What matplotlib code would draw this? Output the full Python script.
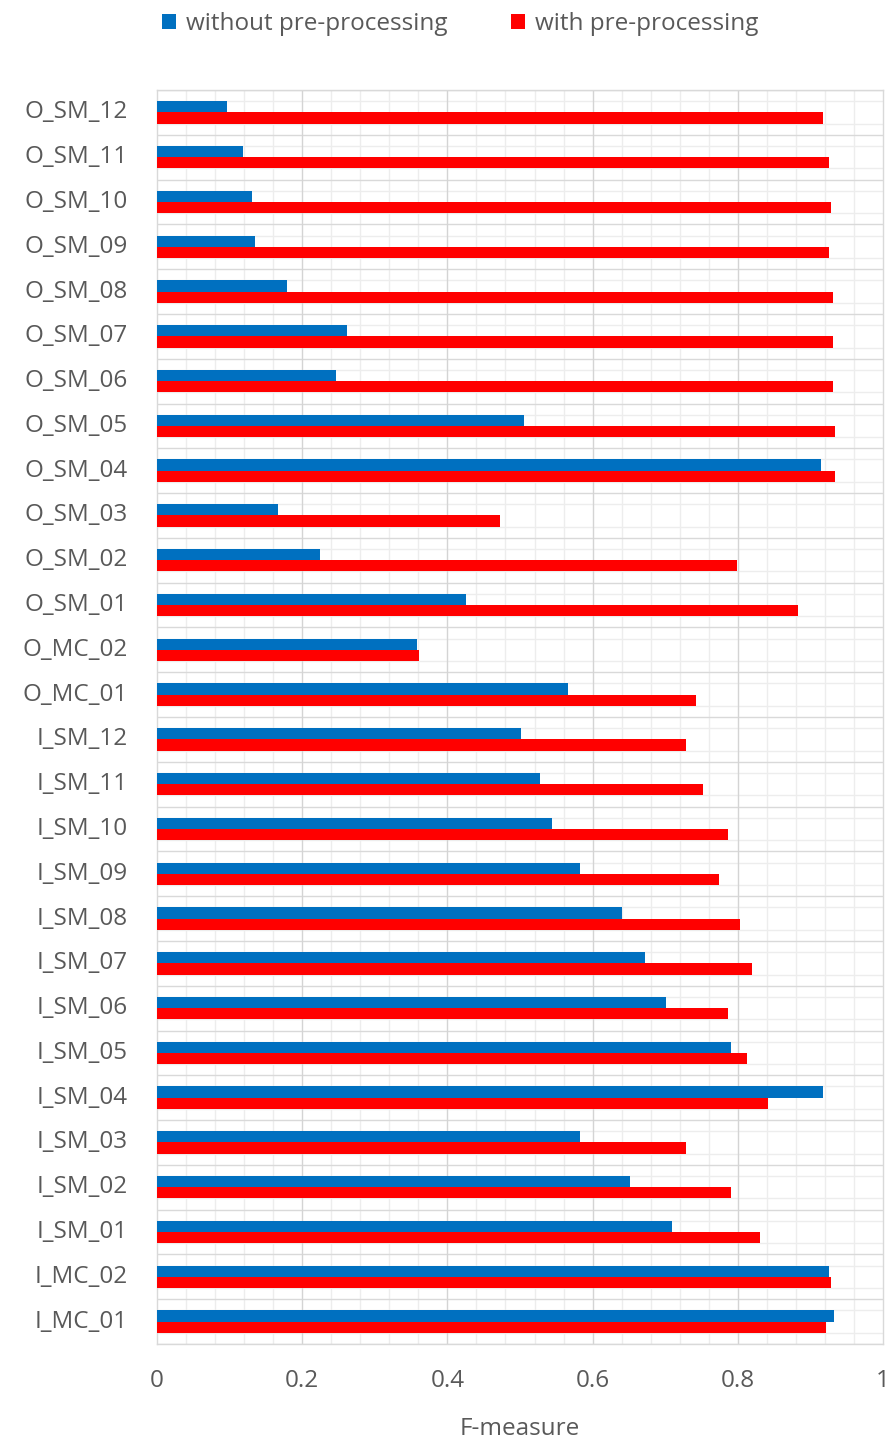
import matplotlib
matplotlib.use("Agg")
import matplotlib.pyplot as plt
import numpy as np
from matplotlib.patches import Patch

plt.rcParams['font.family'] = ['Open Sans', 'DejaVu Sans']

# Categories from top to bottom of the chart
categories = [
    "O_SM_12", "O_SM_11", "O_SM_10", "O_SM_09", "O_SM_08", "O_SM_07",
    "O_SM_06", "O_SM_05", "O_SM_04", "O_SM_03", "O_SM_02", "O_SM_01",
    "O_MC_02", "O_MC_01", "I_SM_12", "I_SM_11", "I_SM_10", "I_SM_09",
    "I_SM_08", "I_SM_07", "I_SM_06", "I_SM_05", "I_SM_04", "I_SM_03",
    "I_SM_02", "I_SM_01", "I_MC_02", "I_MC_01",
]

without_pre = [
    0.096, 0.118, 0.131, 0.135, 0.179, 0.262,
    0.246, 0.505, 0.915, 0.166, 0.224, 0.425,
    0.358, 0.566, 0.502, 0.528, 0.544, 0.582,
    0.640, 0.672, 0.701, 0.790, 0.918, 0.582,
    0.652, 0.710, 0.925, 0.932,
]

with_pre = [
    0.918, 0.925, 0.928, 0.925, 0.931, 0.931,
    0.931, 0.934, 0.934, 0.473, 0.799, 0.883,
    0.361, 0.742, 0.729, 0.752, 0.787, 0.774,
    0.803, 0.819, 0.787, 0.812, 0.841, 0.729,
    0.790, 0.831, 0.928, 0.921,
]

x_ticks = [0, 0.2, 0.4, 0.6, 0.8, 1]
x_tick_labels = ["0", "0.2", "0.4", "0.6", "0.8", "1"]
series_names = ["without pre-processing", "with pre-processing"]

blue = "#0070C0"
red = "#FF0000"
text_gray = "#595959"
fs = 17.5

W, H = 894, 1441
fig = plt.figure(figsize=(W / 100, H / 100), dpi=100)
ax = fig.add_axes([157 / W, 1 - 1344 / H, (883 - 157) / W, (1344 - 90) / H])

n = len(categories)
pos = np.arange(n)[::-1]  # first category at the top
bar_h = 0.25

ax.barh(pos + bar_h / 2, without_pre, height=bar_h, color=blue, zorder=3)
ax.barh(pos - bar_h / 2, with_pre, height=bar_h, color=red, zorder=3)

ax.set_xlim(0, 1)
ax.set_ylim(-0.5, n - 0.5)
ax.set_xticks(x_ticks)
ax.set_xticklabels(x_tick_labels)
ax.set_yticks(pos)
ax.set_yticklabels(categories, va="center")

# Grid: category boundaries and quarter steps horizontally,
# 0.2 major / 0.04 minor vertically
for b in np.arange(-0.5, n, 1.0):
    ax.axhline(b, color="#d9d9d9", lw=1.0, zorder=1)
for q in np.arange(-0.25, n - 0.5, 0.5):
    ax.axhline(q, color="#ededed", lw=1.0, zorder=0.5)
for k in range(1, 25):
    xv = k * 0.04
    if k % 5 == 0:
        ax.axvline(xv, color="#d4d4d4", lw=1.0, zorder=1)
    else:
        ax.axvline(xv, color="#ededed", lw=1.0, zorder=0.5)

ax.tick_params(axis="both", which="both", length=0)
ax.tick_params(axis="y", pad=21, labelsize=fs, labelcolor=text_gray)
ax.tick_params(axis="x", pad=18, labelsize=fs, labelcolor=text_gray)

for s in ax.spines.values():
    s.set_color("#d9d9d9")
    s.set_linewidth(1.0)

ax.set_xlabel("F-measure", fontsize=fs, color=text_gray, labelpad=17)

handles = [Patch(facecolor=blue, edgecolor="none"), Patch(facecolor=red, edgecolor="none")]
fig.legend(handles, series_names, loc="center", bbox_to_anchor=(460 / W, 1 - 24 / H),
           ncol=2, frameon=False, fontsize=fs, labelcolor=text_gray,
           handlelength=0.6, handleheight=0.6, handletextpad=0.4, columnspacing=2.6)

fig.savefig("out.png", dpi=100)
